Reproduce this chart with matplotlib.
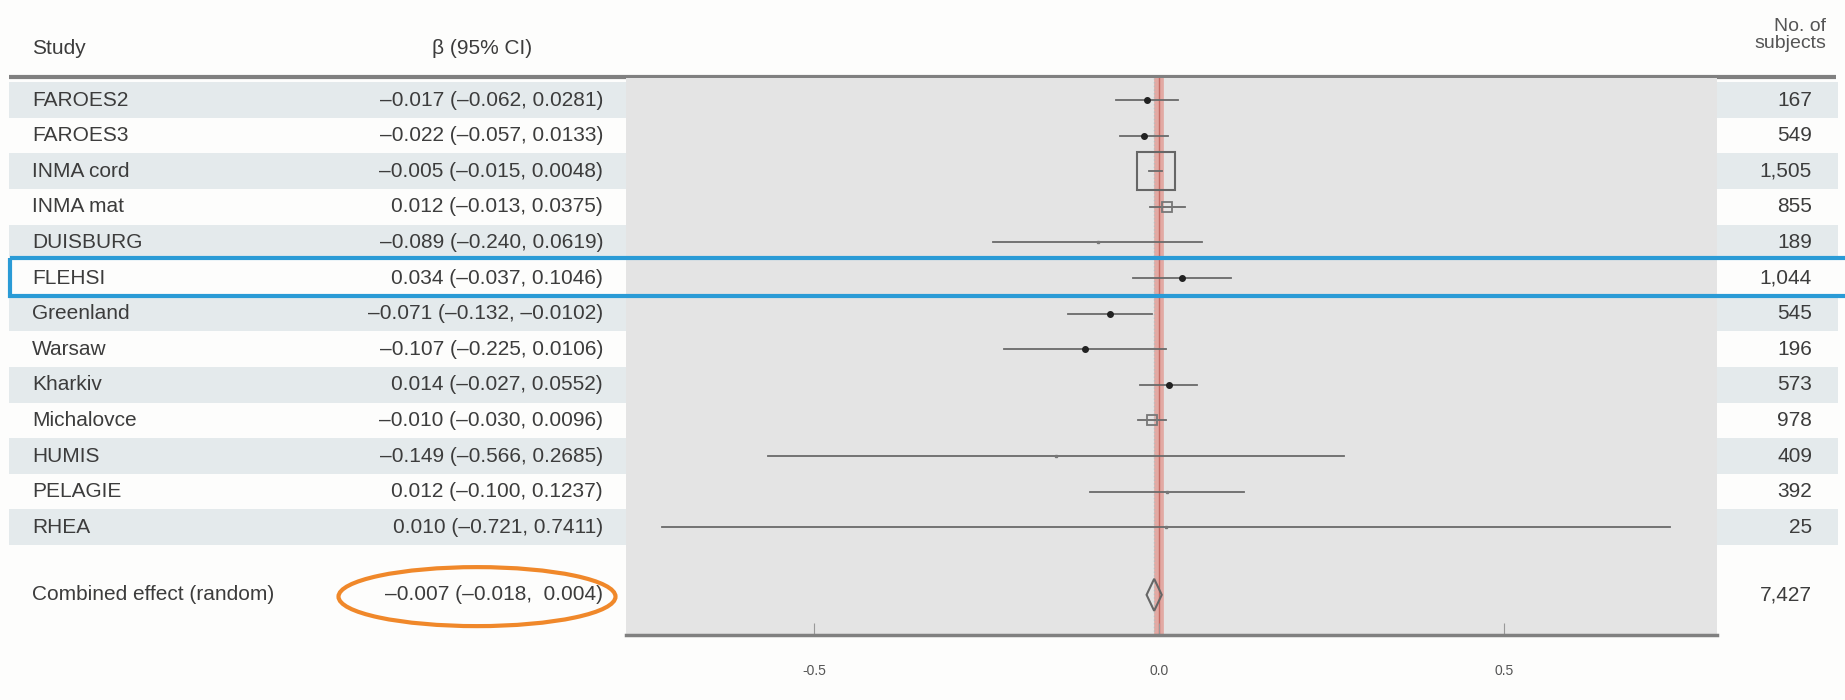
import matplotlib
matplotlib.use("Agg")
import matplotlib.pyplot as plt
from matplotlib.patches import Rectangle, Ellipse

plt.rcParams['font.family'] = ['Liberation Sans', 'DejaVu Sans']

studies = ["FAROES2", "FAROES3", "INMA cord", "INMA mat", "DUISBURG", "FLEHSI",
           "Greenland", "Warsaw", "Kharkiv", "Michalovce", "HUMIS", "PELAGIE", "RHEA"]
beta = [-0.017, -0.022, -0.005, 0.012, -0.089, 0.034, -0.071, -0.107, 0.014,
        -0.010, -0.149, 0.012, 0.010]
ci_low = [-0.062, -0.057, -0.015, -0.013, -0.240, -0.037, -0.132, -0.225, -0.027,
          -0.030, -0.566, -0.100, -0.721]
ci_high = [0.0281, 0.0133, 0.0048, 0.0375, 0.0619, 0.1046, -0.0102, 0.0106, 0.0552,
           0.0096, 0.2685, 0.1237, 0.7411]
n_subjects = ["167", "549", "1,505", "855", "189", "1,044", "545", "196", "573",
              "978", "409", "392", "25"]

combined_label = "Combined effect (random)"
combined_beta = -0.007
combined_low = -0.018
combined_high = 0.004
combined_n = "7,427"

xticks = [-0.5, 0.0, 0.5]

# marker look per study (big hollow box for the heavy one)
marker_style = ['dot', 'dot', 'bigbox', 'box', 'none', 'dot', 'dot', 'dot', 'dot',
                'box', 'none', 'none', 'none']


def dash(v, nd):
    s = f"{v:.{nd}f}"
    return s.replace('-', '\u2013')


# layout in pixels of a 1845x700 figure
W, H = 1845, 700
row0 = 100
pitch = 35.6
comb_row = 13.9
text_col = '#3c3c3c'
fs = 15


def prow(px):
    return (px - row0) / pitch


fig = plt.figure(figsize=(W / 100, H / 100), dpi=100)
fig.patch.set_facecolor('#fdfdfc')

bg = fig.add_axes([0, 0, 1, 1])
bg.set_xlim(0, W)
bg.set_ylim(prow(H), prow(0))
bg.axis('off')

rows = list(range(len(studies)))

# striped table rows
for i in rows:
    if i % 2 == 0:
        bg.axhspan(i - 0.5, i + 0.5, xmin=9 / W, xmax=626 / W, color='#e4eaec', lw=0)
        bg.axhspan(i - 0.5, i + 0.5, xmin=1717 / W, xmax=1838 / W, color='#e4eaec', lw=0)

# header
bg.plot([9, 1836], [prow(77), prow(77)], color='#808080', lw=3, solid_capstyle='butt')
bg.text(32, prow(48), "Study", fontsize=fs, color=text_col, va='center', ha='left')
bg.text(482, prow(48), "\u03b2 (95% CI)", fontsize=fs, color=text_col, va='center', ha='center')
bg.text(1826, prow(35), "No. of\nsubjects", fontsize=fs - 1, color='#555555', va='center',
        ha='right', multialignment='right', linespacing=1.0)

for i, name in enumerate(studies):
    bg.text(32, i, name, fontsize=fs, color=text_col, va='center', ha='left')
    txt = f"{dash(beta[i], 3)} ({dash(ci_low[i], 3)}, {dash(ci_high[i], 4)})"
    bg.text(603, i, txt, fontsize=fs, color=text_col, va='center', ha='right')
    bg.text(1812, i, n_subjects[i], fontsize=fs, color=text_col, va='center', ha='right')

bg.text(32, comb_row, combined_label, fontsize=fs, color=text_col, va='center', ha='left')
bg.text(603, comb_row, f"{dash(combined_beta, 3)} ({dash(combined_low, 3)},  {dash(combined_high, 3)})",
        fontsize=fs, color=text_col, va='center', ha='right')
bg.text(1812, comb_row, combined_n, fontsize=fs, color=text_col, va='center', ha='right')

# forest panel
left, right, top, bottom = 626, 1717, 78, 635
ax = fig.add_axes([left / W, (H - bottom) / H, (right - left) / W, (bottom - top) / H])
ax.set_facecolor('#e4e4e4')
ax.set_xlim((left - 1159) / 690, (right - 1159) / 690)
ax.set_ylim(prow(bottom), prow(top))
for s in ['top', 'left', 'right']:
    ax.spines[s].set_visible(False)
ax.spines['bottom'].set_color('#808080')
ax.spines['bottom'].set_linewidth(2.5)
ax.set_yticks([])
ax.set_xticks(xticks)
ax.set_xticklabels([f"{t:.1f}" for t in xticks])
ax.tick_params(axis='x', direction='in', length=9, width=0.8, color='#999999',
               labelsize=10, labelcolor='#555555', pad=21)

ax.axvline(0, color='#e2a9a3', lw=7, zorder=1)
ax.axvline(0, color='#c56a62', lw=1, zorder=1)
ax.axvline(combined_beta, color='#bbbbbb', lw=1, ls=':', zorder=1)

for i in rows:
    ax.plot([ci_low[i], ci_high[i]], [i, i], color='#6a6a6a', lw=1.3, zorder=3)
    st = marker_style[i]
    if st == 'dot':
        ax.plot(beta[i], i, 'o', color='#222222', ms=4, zorder=4)
    elif st == 'box':
        ax.plot(beta[i], i, 's', mfc='none', mec='#777777', mew=1.3, ms=7, zorder=4)
    elif st == 'bigbox':
        ax.plot(beta[i], i, 's', mfc='none', mec='#666666', mew=1.5, ms=28, zorder=4)
    else:
        ax.plot(beta[i], i, 's', color='#777777', ms=2, zorder=4)

dh = 0.45
ax.fill([combined_low, combined_beta, combined_high, combined_beta],
        [comb_row, comb_row - dh, comb_row, comb_row + dh],
        facecolor='none', edgecolor='#666666', lw=1.5, zorder=4)

# highlight annotations on a transparent layer above everything
over = fig.add_axes([0, 0, 1, 1])
over.set_xlim(0, W)
over.set_ylim(prow(H), prow(0))
over.axis('off')
over.patch.set_alpha(0)
over.add_patch(Rectangle((10, prow(258)), 1850, prow(296) - prow(258), fill=False,
                         edgecolor='#2a9bd6', lw=3))
over.add_patch(Ellipse((477, comb_row + 0.05), 277, 59 / pitch, fill=False,
                       edgecolor='#f0882a', lw=3))

fig.savefig("out.png", dpi=100, facecolor=fig.get_facecolor())
